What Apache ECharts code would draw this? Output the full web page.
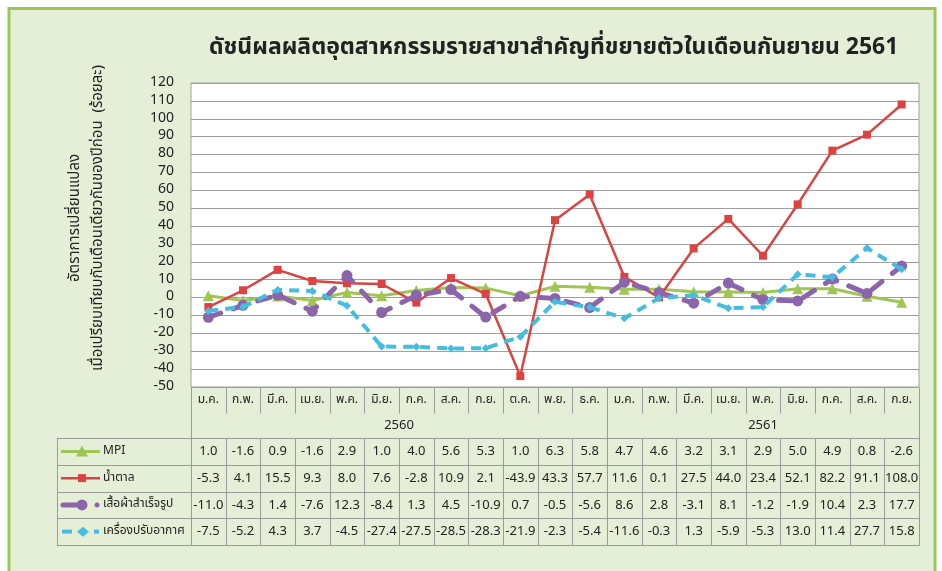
<!DOCTYPE html>
<html><head><meta charset="utf-8">
<script src="https://cdn.jsdelivr.net/npm/echarts@6/dist/echarts.min.js"></script>
<style>html,body{margin:0;padding:0;background:#fff}#c{width:942px;height:571px}</style>
</head><body><div id="c"></div>
<script>
// ---- data ----
const titleText = 'ดัชนีผลผลิตอุตสาหกรรมรายสาขาสำคัญที่ขยายตัวในเดือนกันยายน 2561';
const yAxisLine1 = 'อัตราการเปลี่ยนแปลง';
const yAxisLine2 = 'เมื่อเปรียบเทียบกับเดือนเดียวกันของปีก่อน  (ร้อยละ)';
const months = ['ม.ค.','ก.พ.','มี.ค.','เม.ย.','พ.ค.','มิ.ย.','ก.ค.','ส.ค.','ก.ย.','ต.ค.','พ.ย.','ธ.ค.','ม.ค.','ก.พ.','มี.ค.','เม.ย.','พ.ค.','มิ.ย.','ก.ค.','ส.ค.','ก.ย.'];
const yearLabels = ['2560','2561'];
const yearMonthCounts = [12, 9];
const seriesNames = ['MPI','น้ำตาล','เสื้อผ้าสำเร็จรูป','เครื่องปรับอากาศ'];
const mpi =     [1.0,-1.6,0.9,-1.6,2.9,1.0,4.0,5.6,5.3,1.0,6.3,5.8,4.7,4.6,3.2,3.1,2.9,5.0,4.9,0.8,-2.6];
const sugar =   [-5.3,4.1,15.5,9.3,8.0,7.6,-2.8,10.9,2.1,-43.9,43.3,57.7,11.6,0.1,27.5,44.0,23.4,52.1,82.2,91.1,108.0];
const clothes = [-11.0,-4.3,1.4,-7.6,12.3,-8.4,1.3,4.5,-10.9,0.7,-0.5,-5.6,8.6,2.8,-3.1,8.1,-1.2,-1.9,10.4,2.3,17.7];
const aircon =  [-7.5,-5.2,4.3,3.7,-4.5,-27.4,-27.5,-28.5,-28.3,-21.9,-2.3,-5.4,-11.6,-0.3,1.3,-5.9,-5.3,13.0,11.4,27.7,15.8];
const yMin = -50, yMax = 120, yStep = 10;

// ---- style ----
const FONT = 'Tahoma, "Noto Sans Thai", "Noto Sans Thai UI", "Noto Sans", sans-serif';
const C = {green:'#9fc554', red:'#dc4340', purple:'#8b64ab', blue:'#45bde0', grid:'#a0a0a0', tbl:'#9a9a9a', bg:'#e5efd7', frame:'#9cc653', text:'#222'};

const chart = echarts.init(document.getElementById('c'));
const seriesData = [mpi, sugar, clothes, aircon];
const styles = [
  {color:C.green, symbol:'triangle', symbolSize:11, lineStyle:{width:3}},
  {color:C.red, symbol:'rect', symbolSize:8, lineStyle:{width:2.5}},
  {color:C.purple, symbol:'circle', symbolSize:11, lineStyle:{width:5, type:[13,13], cap:'round'}},
  {color:C.blue, symbol:'diamond', symbolSize:8, lineStyle:{width:4, type:[10,7]}}
];
chart.setOption({
  animation:false,
  backgroundColor:'transparent',
  textStyle:{fontFamily:FONT},
  title:{text:titleText, left:204, top:33, textStyle:{fontSize:23, fontWeight:'bold', color:C.text, fontFamily:FONT}},
  grid:{left:191, right:23, top:83, bottom:184, show:true, backgroundColor:'#fff', borderColor:C.grid, borderWidth:1},
  xAxis:{type:'category', data:months, boundaryGap:true, axisLabel:{show:false}, axisTick:{show:false}, axisLine:{show:false}},
  yAxis:{type:'value', min:yMin, max:yMax, interval:yStep,
    axisLabel:{fontSize:14, color:C.text, margin:17, fontFamily:FONT},
    splitLine:{lineStyle:{color:C.grid, width:1}}, axisLine:{show:false}, axisTick:{show:false}},
  series: seriesNames.map((n,i)=>({name:n, type:'line', data:seriesData[i], z:2+i,
    itemStyle:{color:styles[i].color}, lineStyle:Object.assign({color:styles[i].color}, styles[i].lineStyle),
    symbol:styles[i].symbol, symbolSize:styles[i].symbolSize, showSymbol:true}))
});

// ---- table & decorations via graphic ----
const xs = months.map((_,i)=>chart.convertToPixel({xAxisIndex:0}, i));
const w = xs[1]-xs[0];
const plotL = xs[0]-w/2, plotR = xs[xs.length-1]+w/2;
const plotB = chart.convertToPixel({yAxisIndex:0}, yMin);
const monthRowB = plotB + 26, headerB = 438, rowH = 26.75, legL = 57;
const g = [];
const line = (x1,y1,x2,y2)=>g.push({type:'line', silent:true, z:50, shape:{x1,y1,x2,y2}, style:{stroke:C.tbl, lineWidth:1}});
const text = (x,y,t,opt)=>g.push({type:'text', silent:true, z:60, x, y, style:Object.assign({text:t, fill:C.text, font:'13px '+FONT, align:'center', verticalAlign:'middle'}, opt||{})});
// frame (open at the bottom)
g.push({type:'rect', silent:true, z:-100, shape:{x:8, y:7, width:928, height:570}, style:{fill:C.bg}});
g.push({type:'polyline', silent:true, z:-99, shape:{points:[[9,600],[9,8.5],[935,8.5],[935,600]]}, style:{stroke:C.frame, lineWidth:3, fill:null}});
// y axis name
g.push({type:'text', silent:true, z:60, x:87, y:218, rotation:Math.PI/2, style:{text:yAxisLine1+'\n'+yAxisLine2, font:'15px '+FONT, fill:C.text, align:'center', verticalAlign:'middle', lineHeight:23}});
const r = v=>Math.round(v)+0.5;
// header
let boundaryYear = []; let acc=0; yearMonthCounts.forEach(c=>{acc+=c; boundaryYear.push(acc);});
for (let i=0;i<=months.length;i++){
  const x = r(plotL + i*w);
  const full = (i===0 || i===months.length || boundaryYear.indexOf(i)>=0 && i<months.length);
  line(x, r(plotB), x, full ? r(headerB + 4*rowH) : r(monthRowB));
  if (!full) line(x, r(headerB), x, r(headerB+4*rowH));
}
months.forEach((m,i)=>text(xs[i], plotB+14, m, {font:'12px '+FONT}));
let start=0;
yearLabels.forEach((y,k)=>{ const n=yearMonthCounts[k]; text(plotL+(start+n/2)*w, plotB+39, y); start+=n; });
// rows
for (let k=0;k<=4;k++) line(legL, r(headerB+k*rowH), r(plotR), r(headerB+k*rowH));
line(legL+0.5, r(headerB), legL+0.5, r(headerB+4*rowH));
seriesData.forEach((arr,k)=>{
  const cy = headerB + k*rowH + rowH/2;
  arr.forEach((v,i)=>text(xs[i], cy+1, v.toFixed(1)));
  text(k<2?103:103, cy, seriesNames[k], {align:'left', font:'12px '+FONT});
  const col = styles[k].color;
  if (k===0){ g.push({type:'line',silent:true,z:55,shape:{x1:61,y1:cy,x2:100,y2:cy},style:{stroke:col,lineWidth:3}});
    g.push({type:'polygon',silent:true,z:56,shape:{points:[[82,cy-6],[88,cy+5],[76,cy+5]]},style:{fill:col}}); }
  if (k===1){ g.push({type:'line',silent:true,z:55,shape:{x1:61,y1:cy,x2:100,y2:cy},style:{stroke:col,lineWidth:2.5}});
    g.push({type:'rect',silent:true,z:56,shape:{x:78,y:cy-4,width:8,height:8},style:{fill:col}}); }
  if (k===2){ g.push({type:'line',silent:true,z:55,shape:{x1:63,y1:cy,x2:76,y2:cy},style:{stroke:col,lineWidth:5,lineCap:'round'}});
    g.push({type:'circle',silent:true,z:56,shape:{cx:82,cy:cy,r:5.5},style:{fill:col}});
    g.push({type:'circle',silent:true,z:56,shape:{cx:97,cy:cy,r:2.5},style:{fill:col}}); }
  if (k===3){ g.push({type:'line',silent:true,z:55,shape:{x1:62,y1:cy,x2:72,y2:cy},style:{stroke:col,lineWidth:4}});
    g.push({type:'polygon',silent:true,z:56,shape:{points:[[77,cy],[83,cy-5],[89,cy],[83,cy+5]]},style:{fill:col}});
    g.push({type:'line',silent:true,z:55,shape:{x1:94,y1:cy,x2:99,y2:cy},style:{stroke:col,lineWidth:4}}); }
});
chart.setOption({graphic:{elements:g}});
</script></body></html>
